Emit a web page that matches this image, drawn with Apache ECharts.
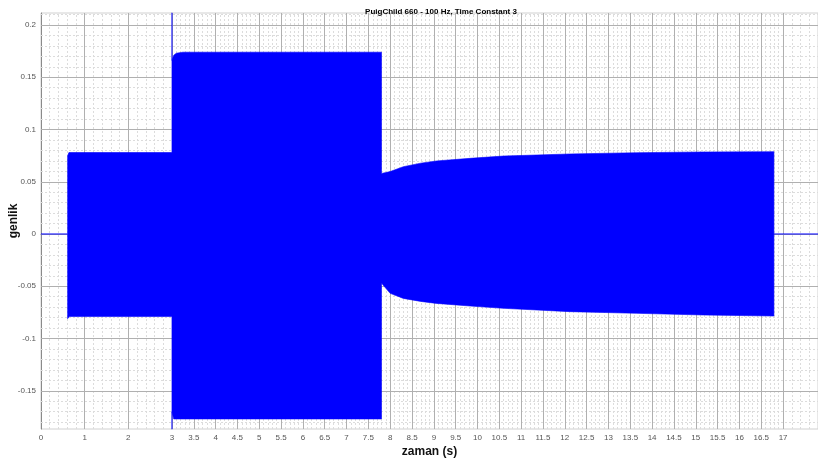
<!DOCTYPE html>
<html>
<head>
<meta charset="utf-8">
<script src="https://cdn.jsdelivr.net/npm/echarts@6/dist/echarts.min.js"></script>
<style>
  html, body { margin: 0; padding: 0; background: #fff; }
  #chart { width: 818px; height: 466px; }
</style>
</head>
<body>
<div id="chart"></div>
<script>
// Labelled ticks on each axis
const xTickValues = [0, 1, 2, 3, 3.5, 4, 4.5, 5, 5.5, 6, 6.5, 7, 7.5, 8, 8.5, 9, 9.5, 10,
  10.5, 11, 11.5, 12, 12.5, 13, 13.5, 14, 14.5, 15, 15.5, 16, 16.5, 17];
const yTickValues = [-0.15, -0.1, -0.05, 0, 0.05, 0.1, 0.15, 0.2];

// Envelope of the 100 Hz test tone: [time (s), amplitude]
const upperEnvelope = [
  [0, 0], [0.61, 0], [0.61, 0.075], [0.64, 0.078], [3.0, 0.078],
  [3.0, 0.25], [3.0, 0.166], [3.04, 0.171], [3.1, 0.173], [3.25, 0.174], [7.80, 0.174],
  [7.80, 0.058], [7.9, 0.0588], [8.0, 0.0598], [8.3, 0.0644], [8.7, 0.0678], [9.06, 0.0699],
  [9.83, 0.0724], [10.59, 0.0746], [12.12, 0.0766], [13.65, 0.0778], [15.17, 0.0785], [16.79, 0.0788],
  [16.79, 0], [17.8, 0]
];
const lowerEnvelope = [
  [0, 0], [0.61, 0], [0.61, -0.081], [0.65, -0.079], [3.0, -0.079],
  [3.0, -0.25], [3.0, -0.170], [3.04, -0.177], [7.80, -0.177],
  [7.80, -0.047], [7.9, -0.052], [8.0, -0.0568], [8.3, -0.0616], [8.7, -0.0645], [9.06, -0.0664],
  [9.83, -0.0689], [10.59, -0.0711], [12.12, -0.0743], [13.65, -0.0759], [15.17, -0.0775], [16.79, -0.0785],
  [16.79, 0], [17.8, 0]
];

const X_MIN = 0, X_MAX = 17.8;
const Y_MIN = -0.1866, Y_MAX = 0.2115;

// Minor grid positions: five subdivisions per labelled interval
function minorBetween(ticks, lo, hi, extraStep) {
  const out = [];
  for (let i = 0; i < ticks.length - 1; i++) {
    const a = ticks[i], b = ticks[i + 1];
    for (let k = 1; k < 5; k++) out.push(+(a + (b - a) * k / 5).toFixed(4));
  }
  const last = ticks[ticks.length - 1];
  for (let v = last + extraStep; v < hi - 1e-9; v += extraStep) out.push(+v.toFixed(4));
  const first = ticks[0];
  for (let v = first - extraStep; v > lo + 1e-9; v -= extraStep) out.push(+v.toFixed(4));
  return out;
}
const minorX = minorBetween(xTickValues, X_MIN, X_MAX, 0.2);
const minorY = minorBetween(yTickValues, Y_MIN, Y_MAX, 0.01);

const fmt = v => String(parseFloat((+v).toFixed(4)));
const labelFont = { fontFamily: 'Liberation Sans, Arial, sans-serif', fontSize: 8, color: '#555' };

const chart = echarts.init(document.getElementById('chart'), null, { renderer: 'canvas' });
chart.setOption({
  animation: false,
  backgroundColor: '#ffffff',
  title: {
    text: 'PuigChild 660 - 100 Hz, Time Constant 3',
    left: 436, top: 3, textAlign: 'center',
    textStyle: { fontFamily: 'Liberation Sans, Arial, sans-serif', fontSize: 8, fontWeight: 'bold', color: '#000' }
  },
  grid: {
    left: 41, top: 13, right: 0, bottom: 37,
    outerBoundsMode: 'none', containLabel: false,
    show: true, borderColor: '#d0d0d0', borderWidth: 1, backgroundColor: '#fff'
  },
  xAxis: {
    type: 'value', min: X_MIN, max: X_MAX,
    name: 'zaman (s)', nameLocation: 'middle', nameGap: 17, nameMoveOverlap: false,
    nameTextStyle: { fontFamily: 'Liberation Sans, Arial, sans-serif', fontSize: 12, fontWeight: 'bold', color: '#111', verticalAlign: 'top' },
    axisLine: { show: true, lineStyle: { color: '#8a8a8a', width: 1 } },
    axisTick: { show: false },
    splitLine: { show: false },
    axisLabel: { customValues: xTickValues, formatter: fmt, margin: 5, ...labelFont }
  },
  yAxis: {
    type: 'value', min: Y_MIN, max: Y_MAX,
    name: 'genlik', nameLocation: 'middle', nameGap: 21, nameRotate: 90, nameMoveOverlap: false,
    nameTextStyle: { fontFamily: 'Liberation Sans, Arial, sans-serif', fontSize: 12, fontWeight: 'bold', color: '#111' },
    axisLine: { show: true, lineStyle: { color: '#8a8a8a', width: 1 } },
    axisTick: { show: false },
    splitLine: { show: false },
    axisLabel: { customValues: yTickValues, formatter: fmt, margin: 5, ...labelFont }
  },
  series: [
    {
      name: 'minor grid', type: 'line', data: [], silent: true, z: 1,
      markLine: {
        silent: true, z: 1, symbol: ['none', 'none'], label: { show: false },
        lineStyle: { color: '#dcdcdc', type: [2, 2], width: 1 },
        emphasis: { disabled: true },
        data: minorX.map(v => ({ xAxis: v })).concat(minorY.map(v => ({ yAxis: v })))
      }
    },
    {
      name: 'major grid', type: 'line', data: [], silent: true, z: 1,
      markLine: {
        silent: true, z: 1, symbol: ['none', 'none'], label: { show: false },
        lineStyle: { color: '#b0b0b0', type: 'solid', width: 1 },
        emphasis: { disabled: true },
        data: xTickValues.filter(v => v > 0).map(v => ({ xAxis: v }))
          .concat(yTickValues.map(v => ({ yAxis: v })))
      }
    },
    {
      name: 'upper', type: 'line', data: upperEnvelope, z: 3,
      showSymbol: false, symbol: 'none', clip: true,
      lineStyle: { color: '#0000ff', width: 0.6 },
      areaStyle: { color: '#0000ff', opacity: 1 }
    },
    {
      name: 'lower', type: 'line', data: lowerEnvelope, z: 3,
      showSymbol: false, symbol: 'none', clip: true,
      lineStyle: { color: '#0000ff', width: 0.6 },
      areaStyle: { color: '#0000ff', opacity: 1 }
    }
  ]
});
</script>
</body>
</html>
